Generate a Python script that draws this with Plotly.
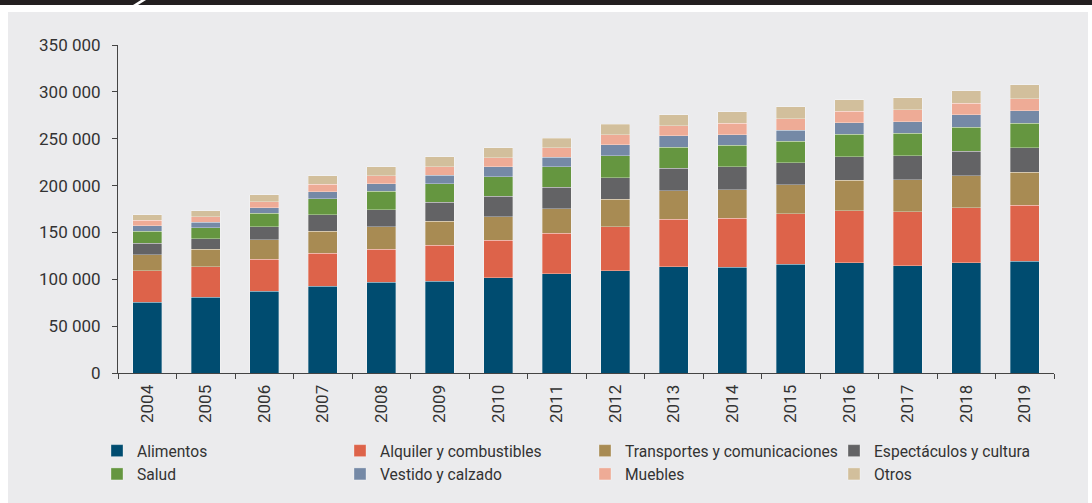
import plotly.graph_objects as go

years = ["2004", "2005", "2006", "2007", "2008", "2009", "2010", "2011",
         "2012", "2013", "2014", "2015", "2016", "2017", "2018", "2019"]

alimentos = [75300, 80600, 87000, 92800, 96600, 97700, 101900, 105900,
             109100, 113300, 112600, 115800, 117600, 114700, 117900, 119000]
alquiler = [33800, 33000, 34500, 35100, 35600, 38800, 39900, 43400,
            47200, 50900, 52600, 54300, 55700, 57600, 58600, 60100]
transportes = [17300, 18600, 20900, 23100, 23800, 25500, 24800, 25900,
               29200, 30500, 30200, 30600, 32500, 34100, 33800, 35200]
espectaculos = [11800, 11300, 13600, 18100, 18400, 20300, 22100, 23100,
                23000, 23900, 24900, 23800, 25100, 25600, 26400, 26200]
salud = [12800, 11700, 14600, 17100, 19600, 19500, 20900, 22000,
         23500, 22300, 22800, 22800, 23900, 23900, 25600, 26000]
vestido = [6000, 5400, 6000, 7100, 8100, 9300, 10300, 10000,
           11400, 12100, 11300, 11800, 12400, 12300, 13100, 13500]
muebles = [6100, 6400, 6400, 8000, 8600, 9200, 10000, 9900,
           11000, 10600, 12100, 12000, 12100, 12800, 12400, 12800]
otros = [5700, 6300, 7200, 9000, 9200, 10300, 10600, 10300,
         11100, 11800, 12100, 12800, 12400, 12500, 13200, 14600]

series_names = ["Alimentos", "Alquiler y combustibles", "Transportes y comunicaciones",
                "Espectáculos y cultura", "Salud", "Vestido y calzado", "Muebles", "Otros"]
series_values = [alimentos, alquiler, transportes, espectaculos, salud, vestido, muebles, otros]
colors = ["#004c70", "#dd634a", "#a88b53", "#636365", "#659640", "#7589a6", "#eeab96", "#d2bf9c"]
legend_ids = ["legend", "legend2", "legend3", "legend4", "legend", "legend2", "legend3", "legend4"]

y_ticks = [0, 50000, 100000, 150000, 200000, 250000, 300000, 350000]

W, H = 1092, 503
L, R, T, B = 118, 38, 45, 130
PW = W - L - R
PH = H - T - B


def px2x(px):
    return (px - L) / PW


def py2y(py):
    return (H - B - py) / PH


FONT = "Roboto, Liberation Sans, sans-serif"
TXT = "#333333"

fig = go.Figure()
for name, vals, col, lg in zip(series_names, series_values, colors, legend_ids):
    fig.add_trace(go.Bar(
        x=years, y=vals, name=name, legend=lg,
        marker=dict(color=col, line=dict(color="rgba(255,255,255,0.45)", width=0.7)),
    ))

legend_common = dict(
    orientation="v", traceorder="normal", xanchor="left", yanchor="top",
    bgcolor="rgba(0,0,0,0)", font=dict(family=FONT, size=15.6, color=TXT),
    itemclick=False, itemdoubleclick=False, tracegroupgap=0,
)
leg_y = py2y(434)
layout_legends = {
    "legend": dict(x=px2x(97), y=leg_y, **legend_common),
    "legend2": dict(x=px2x(340), y=leg_y, **legend_common),
    "legend3": dict(x=px2x(585), y=leg_y, **legend_common),
    "legend4": dict(x=px2x(834), y=leg_y, **legend_common),
}

shapes = [
    # grey panel
    dict(type="rect", xref="paper", yref="paper", x0=px2x(8), x1=px2x(1088),
         y0=py2y(H), y1=py2y(12), fillcolor="#ebebed", line=dict(width=0), layer="below"),
    # dark header band
    dict(type="rect", xref="paper", yref="paper", x0=px2x(0), x1=px2x(W),
         y0=py2y(5), y1=py2y(0), fillcolor="#231f20", line=dict(width=0), layer="above"),
    # white slash in header band
    dict(type="path", xref="paper", yref="paper",
         path="M {a},{t} L {b},{t} L {c},{bt} L {d},{bt} Z".format(
             a=px2x(141), b=px2x(146), c=px2x(138), d=px2x(133), t=py2y(0), bt=py2y(5)),
         fillcolor="#ffffff", line=dict(width=0), layer="above"),
]

fig.update_layout(
    width=W, height=H,
    margin=dict(l=L, r=R, t=T, b=B, autoexpand=False),
    paper_bgcolor="#ffffff", plot_bgcolor="#ebebed",
    barmode="stack", bargap=0.5,
    separators=". ",
    font=dict(family=FONT, size=17, color=TXT),
    showlegend=True,
    shapes=shapes,
    **layout_legends,
)

fig.update_xaxes(
    type="category", showgrid=False, zeroline=False,
    showline=True, linecolor="#444444", linewidth=1,
    ticks="outside", ticklen=5, tickcolor="#444444", tickson="boundaries",
    tickangle=-90, ticklabelstandoff=4,
    tickfont=dict(family=FONT, size=17, color=TXT),
)
fig.update_yaxes(
    range=[0, 350000], tickvals=y_ticks, tickformat=",d",
    showgrid=False, zeroline=False,
    showline=True, linecolor="#444444", linewidth=1,
    ticks="outside", ticklen=5, tickcolor="#444444", ticklabelstandoff=8,
    tickfont=dict(family=FONT, size=17, color=TXT),
)

fig.write_html("out.html", config={"displayModeBar": False},
               post_script="document.body.style.margin='0';")
